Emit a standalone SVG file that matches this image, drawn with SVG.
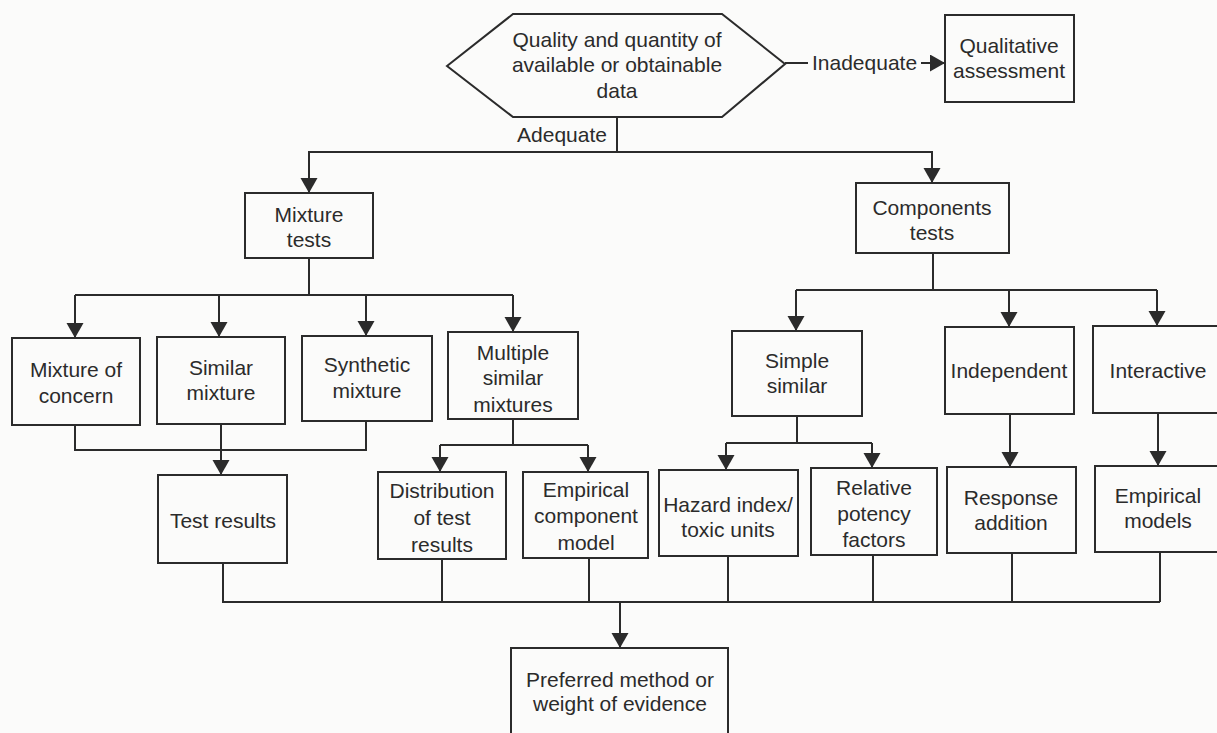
<svg xmlns="http://www.w3.org/2000/svg" width="1217" height="733" viewBox="0 0 1217 733">
<defs>
<marker id="arr" markerUnits="userSpaceOnUse" markerWidth="18" markerHeight="18" refX="15" refY="8.5" orient="auto">
<path d="M0,0 L15,8.5 L0,17 z" fill="#2b2b2b"/>
</marker>
<style>
.box{fill:none;stroke:#2b2b2b;stroke-width:2}
.ln{fill:none;stroke:#2b2b2b;stroke-width:2}
.ar{fill:none;stroke:#2b2b2b;stroke-width:2;marker-end:url(#arr)}
text{font-family:"Liberation Sans",Arial,Helvetica,sans-serif;font-size:21px;fill:#2b2b2b;text-anchor:middle}
.lab{text-anchor:start}
.labe{text-anchor:end}
</style>
</defs>
<rect width="1217" height="733" fill="#fbfbfa"/>
<g id="connectors">
<polyline class="ln" points="785,63 808,63"/>
<polyline class="ar" points="921,63 945,63"/>
<polyline class="ln" points="617,117 617,152"/>
<polyline class="ln" points="308,152 933,152"/>
<polyline class="ar" points="309,152 309,193"/>
<polyline class="ar" points="932,152 932,183"/>
<polyline class="ln" points="309,258 309,295"/>
<polyline class="ln" points="75,295 513,295"/>
<polyline class="ar" points="75,295 75,338"/>
<polyline class="ar" points="219,295 219,337"/>
<polyline class="ar" points="366,295 366,336"/>
<polyline class="ar" points="513,295 513,332"/>
<polyline class="ln" points="933,253 933,290"/>
<polyline class="ln" points="796,290 1157,290"/>
<polyline class="ar" points="796,290 796,331"/>
<polyline class="ar" points="1009,290 1009,327"/>
<polyline class="ar" points="1157,290 1157,326"/>
<polyline class="ln" points="75,425 75,450 366,450 366,421"/>
<polyline class="ar" points="221,424 221,475"/>
<polyline class="ln" points="513,419 513,445"/>
<polyline class="ln" points="440,445 588,445"/>
<polyline class="ar" points="440,445 440,472"/>
<polyline class="ar" points="588,445 588,472"/>
<polyline class="ln" points="797,416 797,443"/>
<polyline class="ln" points="726,443 872,443"/>
<polyline class="ar" points="726,443 726,470"/>
<polyline class="ar" points="872,443 872,468"/>
<polyline class="ar" points="1010,414 1010,467"/>
<polyline class="ar" points="1158,413 1158,466"/>
<polyline class="ln" points="223,563 223,602 1160,602"/>
<polyline class="ln" points="442,559 442,602"/>
<polyline class="ln" points="589,558 589,602"/>
<polyline class="ln" points="728,556 728,602"/>
<polyline class="ln" points="873,555 873,602"/>
<polyline class="ln" points="1012,553 1012,602"/>
<polyline class="ln" points="1160,552 1160,602"/>
<polyline class="ar" points="620,602 620,648"/>
</g>
<g id="labels">
<text class="lab" x="812" y="70">Inadequate</text>
<text class="labe" x="607" y="142">Adequate</text>
</g>
<g id="data">
<polygon class="box" points="447,66 513,14 722,14 785,64 722,117 513,117"/>
<text x="617" y="47">Quality and quantity of</text>
<text x="617" y="72">available or obtainable</text>
<text x="617" y="98">data</text>
</g>
<g id="qualitative">
<rect class="box" x="945" y="15" width="129" height="87"/>
<text x="1009" y="53">Qualitative</text>
<text x="1009" y="78">assessment</text>
</g>
<g id="mixture-tests">
<rect class="box" x="245" y="193" width="128" height="65"/>
<text x="309" y="222">Mixture</text>
<text x="309" y="247">tests</text>
</g>
<g id="components-tests">
<rect class="box" x="856" y="183" width="153" height="70"/>
<text x="932" y="215">Components</text>
<text x="932" y="240">tests</text>
</g>
<g id="mixture-of-concern">
<rect class="box" x="12" y="338" width="128" height="87"/>
<text x="76" y="377">Mixture of</text>
<text x="76" y="403">concern</text>
</g>
<g id="similar-mixture">
<rect class="box" x="157" y="337" width="128" height="87"/>
<text x="221" y="375">Similar</text>
<text x="221" y="400">mixture</text>
</g>
<g id="synthetic-mixture">
<rect class="box" x="302" y="336" width="130" height="85"/>
<text x="367" y="372">Synthetic</text>
<text x="367" y="398">mixture</text>
</g>
<g id="multiple-similar-mixtures">
<rect class="box" x="448" y="332" width="130" height="87"/>
<text x="513" y="360">Multiple</text>
<text x="513" y="385">similar</text>
<text x="513" y="412">mixtures</text>
</g>
<g id="simple-similar">
<rect class="box" x="732" y="331" width="130" height="85"/>
<text x="797" y="368">Simple</text>
<text x="797" y="393">similar</text>
</g>
<g id="independent">
<rect class="box" x="945" y="327" width="129" height="87"/>
<text x="1009" y="378">Independent</text>
</g>
<g id="interactive">
<rect class="box" x="1093" y="326" width="132" height="87"/>
<text x="1158" y="378">Interactive</text>
</g>
<g id="test-results">
<rect class="box" x="158" y="475" width="129" height="88"/>
<text x="223" y="528">Test results</text>
</g>
<g id="distribution">
<rect class="box" x="378" y="472" width="128" height="87"/>
<text x="442" y="498">Distribution</text>
<text x="442" y="525">of test</text>
<text x="442" y="552">results</text>
</g>
<g id="empirical-component-model">
<rect class="box" x="523" y="472" width="125" height="86"/>
<text x="586" y="497">Empirical</text>
<text x="586" y="523">component</text>
<text x="586" y="550">model</text>
</g>
<g id="hazard-index">
<rect class="box" x="659" y="470" width="139" height="86"/>
<text x="728" y="512">Hazard index/</text>
<text x="728" y="537">toxic units</text>
</g>
<g id="relative-potency">
<rect class="box" x="811" y="468" width="126" height="87"/>
<text x="874" y="495">Relative</text>
<text x="874" y="521">potency</text>
<text x="874" y="547">factors</text>
</g>
<g id="response-addition">
<rect class="box" x="947" y="467" width="129" height="86"/>
<text x="1011" y="505">Response</text>
<text x="1011" y="530">addition</text>
</g>
<g id="empirical-models">
<rect class="box" x="1095" y="466" width="130" height="86"/>
<text x="1158" y="503">Empirical</text>
<text x="1158" y="528">models</text>
</g>
<g id="preferred">
<rect class="box" x="511" y="648" width="217" height="95"/>
<text x="620" y="687">Preferred method or</text>
<text x="620" y="711">weight of evidence</text>
</g>
</svg>
